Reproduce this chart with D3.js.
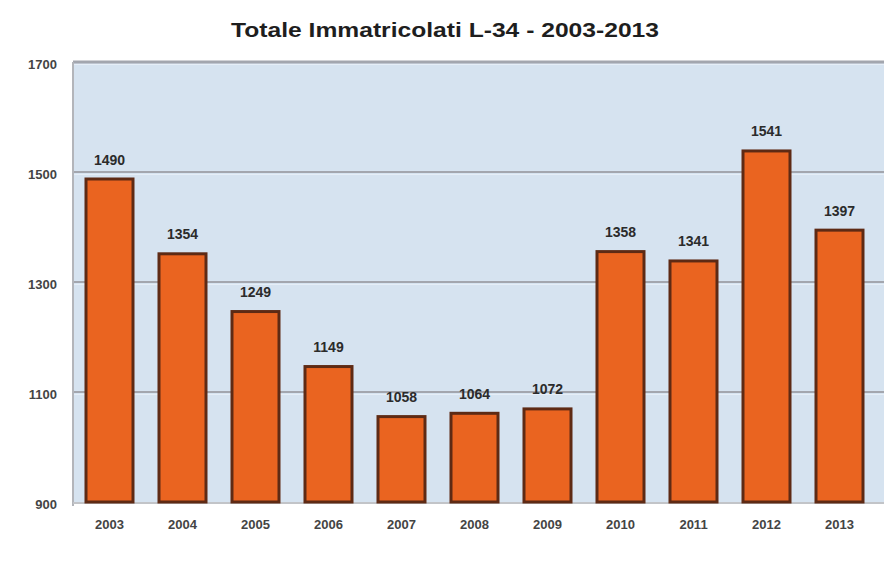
<!DOCTYPE html>
<html><head><meta charset="utf-8">
<script src="https://cdn.jsdelivr.net/npm/d3@7/dist/d3.min.js"></script>
<style>body{margin:0;background:#fff}svg{display:block}</style>
</head><body><svg id="c" width="884" height="563"></svg>
<script>
const categories = ["2003","2004","2005","2006","2007","2008","2009","2010","2011","2012","2013"];
const values = [1490,1354,1249,1149,1058,1064,1072,1358,1341,1541,1397];
const yTicks = [900,1100,1300,1500,1700];
const title = "Totale Immatricolati L-34 - 2003-2013";

(function(){
const svg = d3.select("#c");
const pL = 73, pR = 884, pT = 62, pB = 502;
const x = d3.scaleBand().domain(categories).range([pL, pL + 73*categories.length]).paddingInner(0.315).paddingOuter(0.1575);
const y = d3.scaleLinear().domain([900,1700]).range([pB, pT]);
const font = "Liberation Sans, Arial, sans-serif";

svg.append("rect").attr("x", pL).attr("y", pT).attr("width", pR-pL).attr("height", pB-pT).attr("fill", "#d6e3f0");

const g = svg.append("g");
yTicks.filter(t => t > 900).forEach(t => {
  g.append("line").attr("x1", pL).attr("x2", pR).attr("y1", y(t)).attr("y2", y(t))
    .attr("stroke", "#a3a6ae").attr("stroke-width", t === 1700 ? 3 : 2);
  g.append("line").attr("x1", pL).attr("x2", pR).attr("y1", y(t)+2.5).attr("y2", y(t)+2.5)
    .attr("stroke", "#e6eef7").attr("stroke-width", 1);
});
svg.append("line").attr("x1", pL).attr("x2", pL).attr("y1", pT).attr("y2", pB+4).attr("stroke", "#b3b5ba").attr("stroke-width", 2);
svg.append("line").attr("x1", pL).attr("x2", pR).attr("y1", pB+1).attr("y2", pB+1).attr("stroke", "#c2c4c8").attr("stroke-width", 2);

const ya = d3.axisLeft(y).tickValues(yTicks).tickFormat(d3.format("d")).tickSize(0).tickPadding(12);
const yg = svg.append("g").attr("transform", `translate(${pL-4},2)`).call(ya);
yg.select(".domain").remove();
yg.selectAll("text").attr("font-family", font).attr("font-size", 13).attr("font-weight", "bold").attr("fill", "#444");

svg.append("g").selectAll("rect").data(values).join("rect")
  .attr("x", (d,i) => x(categories[i]) + 1.5)
  .attr("y", d => y(d) + 1.5)
  .attr("width", x.bandwidth() - 3)
  .attr("height", d => pB - y(d) - 1.5)
  .attr("fill", "#ea6420").attr("stroke", "#5e2a14").attr("stroke-width", 3);

svg.append("g").selectAll("text").data(values).join("text")
  .attr("x", (d,i) => x(categories[i]) + x.bandwidth()/2)
  .attr("y", d => y(d) - 13)
  .attr("text-anchor", "middle")
  .attr("font-family", font).attr("font-size", 14).attr("font-weight", "bold")
  .attr("fill", "#2b2b2b")
  .text(d => d);

const xa = d3.axisBottom(x).tickSize(0).tickPadding(18);
const xg = svg.append("g").attr("transform", `translate(0,${pB})`).call(xa);
xg.select(".domain").remove();
xg.selectAll("text").attr("font-family", font).attr("font-size", 13).attr("font-weight", "bold").attr("fill", "#444");

svg.append("text").attr("x", 445).attr("y", 37).attr("text-anchor", "middle")
  .attr("font-family", font).attr("font-size", 21).attr("font-weight", "bold")
  .attr("textLength", 428).attr("lengthAdjust", "spacingAndGlyphs")
  .attr("fill", "#1e1e1e").text(title);
})();
</script></body></html>
